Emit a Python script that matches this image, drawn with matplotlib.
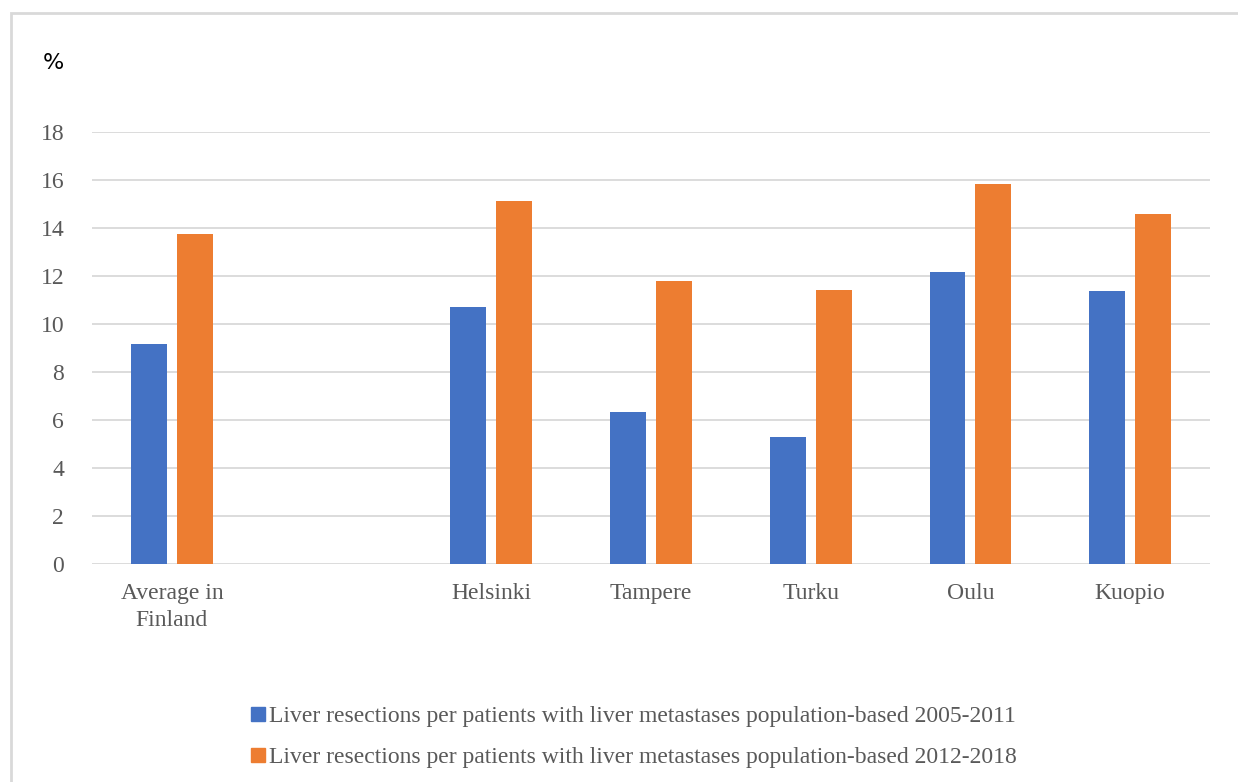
import numpy as np
import matplotlib.pyplot as plt
from matplotlib.lines import Line2D
from matplotlib.patches import Rectangle

# regions (blank slot separates the national average from the hospitals)
regiones = ['Average in\nFinland', '', 'Helsinki', 'Tampere', 'Turku', 'Oulu', 'Kuopio']
periodo1 = [9.17, np.nan, 10.71, 6.33, 5.29, 12.17, 11.38]
periodo2 = [13.75, np.nan, 15.13, 11.79, 11.42, 15.83, 14.58]
etiquetas = ['Liver resections per patients with liver metastases population-based 2005-2011',
             'Liver resections per patients with liver metastases population-based 2012-2018']
colores = ['#4472C4', '#ED7D31']
gris = '#595959'

plt.rcParams['font.family'] = ['Liberation Serif', 'DejaVu Serif']

W, H = 1238, 782
fig = plt.figure(figsize=(W / 100, H / 100), dpi=100)
ax = fig.add_axes([92 / W, (H - 564) / H, (1210 - 92) / W, (564 - 132) / H])

x = np.arange(len(regiones))
ancho = 0.225
sep = 0.0625
ax.bar(x - (ancho + sep) / 2, periodo1, ancho, color=colores[0], zorder=3)
ax.bar(x + (ancho + sep) / 2, periodo2, ancho, color=colores[1], zorder=3)

ax.set_xlim(-0.5, len(regiones) - 0.5)
ax.set_ylim(0, 18)
ax.set_yticks(np.arange(0, 19, 2))
ax.set_xticks(x)
ax.set_xticklabels(regiones, fontsize=17, color=gris, linespacing=1.35)
ax.tick_params(axis='y', labelsize=17, labelcolor=gris, length=0, pad=20)
ax.tick_params(axis='x', length=0, pad=14)
ax.grid(axis='y', color='#d9d9d9', linewidth=1.3, zorder=0)
for s in ax.spines.values():
    s.set_visible(False)

fig.text(53 / W, 1 - 63 / H, '%', fontsize=16, family='DejaVu Sans', ha='center', va='center')

# legend
marcas = [Line2D([], [], linestyle='none', marker='s', markersize=9.5, color=c) for c in colores]
fig.legend(marcas, etiquetas, loc='center', bbox_to_anchor=(633 / W, 1 - 737 / H),
           frameon=False, fontsize=17, labelcolor=gris, handletextpad=0.1,
           handlelength=0.7, labelspacing=0.82, borderpad=0)

# outer frame
fig.patches.append(Rectangle((11 / W, -0.1), 1.2, 1 - 13 / H + 0.1, transform=fig.transFigure,
                             fill=False, edgecolor='#d9d9d9', linewidth=2))

fig.savefig('out.png', dpi=100)
